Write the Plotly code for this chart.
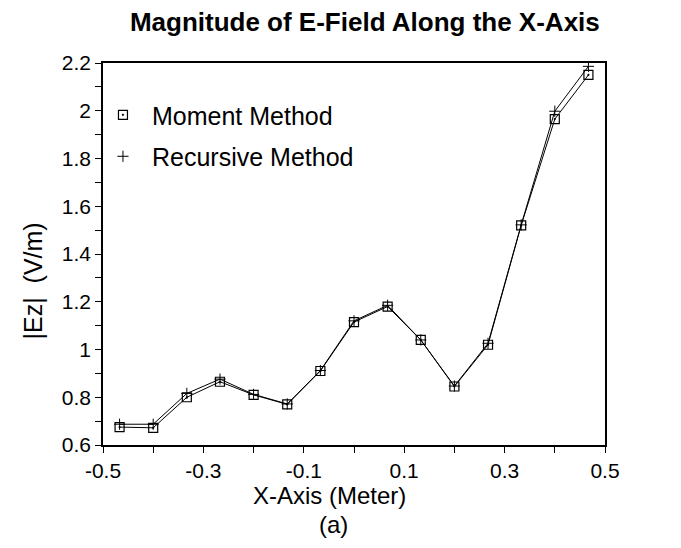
import plotly.graph_objects as go

# =========================================================
# DATA
# =========================================================
x_pos = [-0.467, -0.400, -0.333, -0.267, -0.200, -0.133, -0.067, 0.000,
         0.067, 0.133, 0.200, 0.267, 0.333, 0.400, 0.467]

moment_ez = [0.675, 0.672, 0.800, 0.865, 0.810, 0.770, 0.910, 1.115,
             1.180, 1.040, 0.845, 1.020, 1.520, 1.965, 2.150]

recursive_ez = [0.687, 0.687, 0.816, 0.876, 0.812, 0.772, 0.912, 1.120,
                1.185, 1.040, 0.847, 1.026, 1.522, 1.998, 2.186]

x_tick_vals = [-0.5, -0.3, -0.1, 0.1, 0.3, 0.5]
x_tick_text = ["-0.5", "-0.3", "-0.1", "0.1", "0.3", "0.5"]

FONT = "Liberation Sans, Arial, sans-serif"

moment_marker = dict(symbol="square-open-dot", size=9, color="black",
                     line=dict(color="black", width=1.2))
recursive_marker = dict(symbol="cross-thin", size=8, color="black",
                        line=dict(color="black", width=1))

fig = go.Figure()

# data lines (legend handled by marker-only entries below)
fig.add_trace(go.Scatter(
    x=x_pos, y=moment_ez, mode="lines+markers", name="Moment Method",
    showlegend=False, line=dict(color="black", width=1), marker=moment_marker,
))
fig.add_trace(go.Scatter(
    x=x_pos, y=recursive_ez, mode="lines+markers", name="Recursive Method",
    showlegend=False, line=dict(color="black", width=1), marker=recursive_marker,
))

# legend entries: marker only
fig.add_trace(go.Scatter(
    x=[None], y=[None], mode="markers", name="Moment Method",
    legendgroup="a", marker=moment_marker,
))
fig.add_trace(go.Scatter(
    x=[None], y=[None], mode="markers", name="Recursive Method",
    legendgroup="b", marker=recursive_marker,
))

# axis titles as annotations (they sit off-centre in the original)
fig.add_annotation(text="X-Axis (Meter)", xref="paper", yref="paper",
                   x=0.452, y=-0.132, xanchor="center", yanchor="middle",
                   showarrow=False, font=dict(size=24))
fig.add_annotation(text="(a)", xref="paper", yref="paper",
                   x=0.46, y=-0.208, xanchor="center", yanchor="middle",
                   showarrow=False, font=dict(size=24))
fig.add_annotation(text="|Ez|  (V/m)", xref="paper", yref="paper",
                   x=-0.14, y=0.43, xanchor="center", yanchor="middle",
                   textangle=-90, showarrow=False, font=dict(size=25))

fig.update_layout(
    width=681, height=548,
    margin=dict(l=95, r=84, t=55, b=111, autoexpand=False),
    paper_bgcolor="white", plot_bgcolor="white",
    font=dict(family=FONT, color="black", size=21),
    title=dict(text="<b>Magnitude of E-Field Along the X-Axis</b>",
               x=0.524, xanchor="center", y=0.974, yanchor="middle",
               automargin=False,
               font=dict(size=26, family=FONT)),
    legend=dict(x=-0.018, y=0.924, xanchor="left", yanchor="top",
                bgcolor="rgba(0,0,0,0)", font=dict(size=25, family=FONT),
                itemwidth=48, tracegroupgap=6),
    xaxis=dict(
        range=[-0.5, 0.5], tickvals=x_tick_vals, ticktext=x_tick_text,
        ticks="outside", ticklen=6, tickcolor="black",
        minor=dict(dtick=0.1, tick0=-0.5, ticks="outside", ticklen=6, tickcolor="black"),
        showline=True, linecolor="black", linewidth=1.5, mirror=True,
        showgrid=False, zeroline=False, automargin=False,
        tickfont=dict(size=21),
    ),
    yaxis=dict(
        range=[0.6, 2.2], dtick=0.2, tick0=0.6,
        ticks="outside", ticklen=6, tickcolor="black",
        minor=dict(dtick=0.1, ticks="outside", ticklen=6, tickcolor="black"),
        showline=True, linecolor="black", linewidth=1.5, mirror=True,
        showgrid=False, zeroline=False, automargin=False,
        tickfont=dict(size=21),
    ),
)

fig.write_html("out.html")
